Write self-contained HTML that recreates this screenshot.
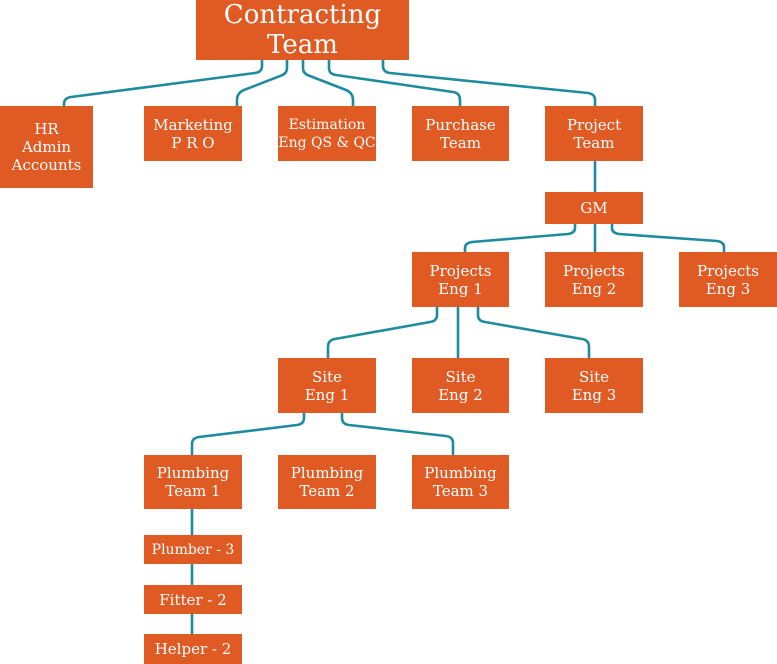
<!DOCTYPE html>
<html><head><style>
body{margin:0;width:777px;height:664px;background:#fff;position:relative;overflow:hidden;font-family:"DejaVu Serif","Liberation Serif",serif;}
.b{position:absolute;background:#E05A24;color:#fff;display:flex;align-items:center;justify-content:center;text-align:center;font-size:15px;line-height:18px;}
svg{position:absolute;left:0;top:0}
</style></head><body>
<svg width="777" height="664" fill="none" stroke="#1E8C9E" stroke-width="2.6">
<path d="M262 60 V66 Q262 72 255 73 L71 97 Q64 98 64 104 V106"/>
<path d="M287 60 V68 Q287 74 280 76 L244 90 Q237 93 237 100 V106"/>
<path d="M303 60 V68 Q303 74 310 76 L346 90 Q353 93 353 100 V106"/>
<path d="M329 60 V68 Q329 74 336 75 L453 92 Q460 93 460 100 V106"/>
<path d="M383 60 V66 Q383 72 390 73 L588 93 Q595 94 595 100 V106"/>
<path d="M595 161 V192"/>
<path d="M575 224 V228 Q575 233 568 234 L472 242 Q465 243 465 248 V252"/>
<path d="M595 224 V252"/>
<path d="M612 224 V228 Q612 233 619 234 L717 241 Q724 242 724 247 V252"/>
<path d="M437 307 V315 Q437 321 430 322 L335 339 Q328 340 328 347 V358"/>
<path d="M458 307 V358"/>
<path d="M478 307 V315 Q478 321 485 322 L582 339 Q589 340 589 347 V358"/>
<path d="M304 413 V418 Q304 424 297 425 L199 437 Q192 438 192 444 V455"/>
<path d="M342 413 V418 Q342 424 349 425 L446 436 Q453 437 453 443 V455"/>
<path d="M192 509 V535 M192 564 V585 M192 614 V634"/>
</svg>
<div class="b" style="left:196px;top:0;width:213px;height:60px;font-size:26px;line-height:30px">Contracting<br>Team</div>
<div class="b" style="left:0;top:106px;width:93px;height:82px">HR<br>Admin<br>Accounts</div>
<div class="b" style="left:144px;top:106px;width:98px;height:55px">Marketing<br>P R O</div>
<div class="b" style="left:278px;top:106px;width:98px;height:55px;font-size:14px">Estimation<br>Eng QS &amp; QC</div>
<div class="b" style="left:412px;top:106px;width:97px;height:55px">Purchase<br>Team</div>
<div class="b" style="left:545px;top:106px;width:98px;height:55px">Project<br>Team</div>
<div class="b" style="left:545px;top:192px;width:98px;height:32px">GM</div>
<div class="b" style="left:412px;top:252px;width:97px;height:55px">Projects<br>Eng 1</div>
<div class="b" style="left:545px;top:252px;width:98px;height:55px">Projects<br>Eng 2</div>
<div class="b" style="left:679px;top:252px;width:98px;height:55px">Projects<br>Eng 3</div>
<div class="b" style="left:278px;top:358px;width:98px;height:55px">Site<br>Eng 1</div>
<div class="b" style="left:412px;top:358px;width:97px;height:55px">Site<br>Eng 2</div>
<div class="b" style="left:545px;top:358px;width:98px;height:55px">Site<br>Eng 3</div>
<div class="b" style="left:144px;top:455px;width:98px;height:54px">Plumbing<br>Team 1</div>
<div class="b" style="left:278px;top:455px;width:98px;height:54px">Plumbing<br>Team 2</div>
<div class="b" style="left:412px;top:455px;width:97px;height:54px">Plumbing<br>Team 3</div>
<div class="b" style="left:144px;top:535px;width:98px;height:29px;font-size:14px">Plumber - 3</div>
<div class="b" style="left:144px;top:585px;width:98px;height:29px">Fitter - 2</div>
<div class="b" style="left:144px;top:634px;width:98px;height:30px">Helper - 2</div>
</body></html>
